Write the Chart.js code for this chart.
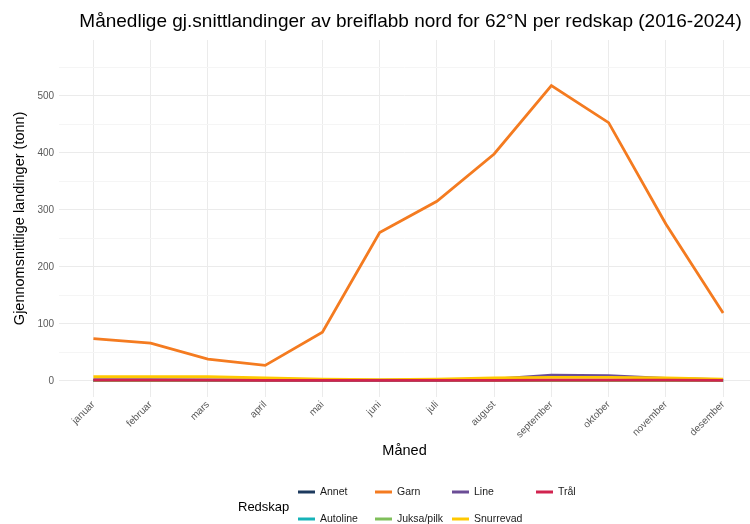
<!DOCTYPE html>
<html>
<head>
<meta charset="utf-8">
<script src="https://cdn.jsdelivr.net/npm/chart.js@4.4.1/dist/chart.umd.min.js"></script>
<style>
  html, body { margin: 0; padding: 0; background: #ffffff; }
  #wrap { width: 750px; height: 524px; position: relative; }
</style>
</head>
<body>
<div id="wrap"><canvas id="chart" width="750" height="524"></canvas></div>
<script>
// Chart data
const months = ['januar', 'februar', 'mars', 'april', 'mai', 'juni', 'juli',
                'august', 'september', 'oktober', 'november', 'desember'];

const gearNames = ['Annet', 'Autoline', 'Garn', 'Juksa/pilk', 'Line', 'Snurrevad', 'Trål'];

const annet     = [0.3, 0.2, 0.3, 0.2, 0.1, 0.1, 0.1, 0.2, 0.3, 0.3, 0.2, 0.2];
const autoline  = [0.5, 0.4, 0.3, 0.2, 0.1, 0.1, 0.1, 0.2, 0.3, 0.4, 0.4, 0.3];
const garn      = [74, 66, 38, 27, 85, 260, 315, 398, 518, 453, 275, 119];
const juksaPilk = [0.2, 0.2, 0.2, 0.2, 0.3, 0.4, 0.5, 0.4, 0.3, 0.2, 0.2, 0.1];
const line      = [2, 2, 1.5, 1.5, 1, 1, 1.5, 3, 10, 9, 4, 2];
const snurrevad = [7, 7, 7, 5, 3, 2, 3, 5, 6, 6, 5, 3];
const tral      = [1, 1, 1, 0.5, 0.5, 0.5, 0.5, 0.5, 1, 1, 1, 0.5];

const yTicks = [0, 100, 200, 300, 400, 500];

const seriesValues = [annet, autoline, garn, juksaPilk, line, snurrevad, tral];
const colors = ['#1d3a5e', '#17b3b8', '#f47b20', '#7fbf5a', '#6b4d96', '#ffc800', '#d1234f'];

const FONT = '"Liberation Sans", Arial, sans-serif';

// Title + ggplot-style legend drawn on the canvas
const decorPlugin = {
    id: 'decor',
    afterDraw: function(chart) {
        const c = chart.ctx;
        const area = chart.chartArea;
        c.save();
        c.fillStyle = '#000000';
        c.font = '19px ' + FONT;
        c.textAlign = 'center';
        c.textBaseline = 'middle';
        c.fillText('Månedlige gj.snittlandinger av breiflabb nord for 62°N per redskap (2016-2024)',
                   (area.left + area.right) / 2 + 6, 22);

        // legend
        c.font = '13px ' + FONT;
        c.textAlign = 'left';
        c.fillText('Redskap', 238, 507);
        const colX = [298, 375, 452, 536];
        const rowY = [492, 519];
        c.font = '10.5px ' + FONT;
        chart.data.datasets.forEach(function(ds, i) {
            const x = colX[Math.floor(i / 2)];
            const y = rowY[i % 2];
            c.strokeStyle = ds.borderColor;
            c.lineWidth = 3;
            c.beginPath();
            c.moveTo(x, y);
            c.lineTo(x + 17, y);
            c.stroke();
            c.fillStyle = '#1a1a1a';
            c.fillText(ds.label, x + 22, y);
        });
        c.restore();
    }
};

const datasets = gearNames.map(function(name, i) {
    return {
        label: name,
        data: seriesValues[i].map(function(v, m) { return { x: m, y: v }; }),
        borderColor: colors[i],
        backgroundColor: colors[i],
        borderWidth: 2.8,
        pointRadius: 0,
        tension: 0,
        order: gearNames.length - i
    };
});

new Chart(document.getElementById('chart'), {
    type: 'line',
    data: { datasets: datasets },
    plugins: [decorPlugin],
    options: {
        responsive: false,
        animation: false,
        layout: { padding: { top: 40, right: 0, bottom: 64, left: 11 } },
        plugins: {
            legend: { display: false },
            title: { display: false },
            tooltip: { enabled: false }
        },
        scales: {
            x: {
                type: 'linear',
                min: -0.6,
                max: 11.47,
                grid: { color: '#ebebeb', lineWidth: 1, drawTicks: false },
                border: { display: false },
                ticks: {
                    stepSize: 1,
                    autoSkip: false,
                    minRotation: 45,
                    maxRotation: 45,
                    padding: 2,
                    color: '#5a5a5a',
                    font: { family: FONT, size: 10 },
                    callback: function(v) { return months[v] || ''; }
                },
                afterBuildTicks: function(axis) {
                    axis.ticks = months.map(function(m, i) { return { value: i }; });
                },
                title: {
                    display: true,
                    text: 'Måned',
                    color: '#000000',
                    font: { family: FONT, size: 14.5 },
                    padding: { top: 0, bottom: 0 }
                }
            },
            y: {
                type: 'linear',
                min: -28,
                max: 598,
                grid: {
                    color: function(ctx) {
                        return ctx.tick && yTicks.indexOf(ctx.tick.value) >= 0 ? '#ebebeb' : '#f5f5f5';
                    },
                    lineWidth: 1,
                    drawTicks: false
                },
                border: { display: false },
                ticks: {
                    stepSize: 50,
                    includeBounds: false,
                    padding: 5,
                    color: '#5a5a5a',
                    font: { family: FONT, size: 10 },
                    callback: function(v) { return yTicks.indexOf(v) >= 0 ? String(v) : ''; }
                },
                title: {
                    display: true,
                    text: 'Gjennomsnittlige landinger (tonn)',
                    color: '#000000',
                    font: { family: FONT, size: 14.5 },
                    padding: { top: 0, bottom: 4 }
                }
            }
        }
    }
});
</script>
</body>
</html>
